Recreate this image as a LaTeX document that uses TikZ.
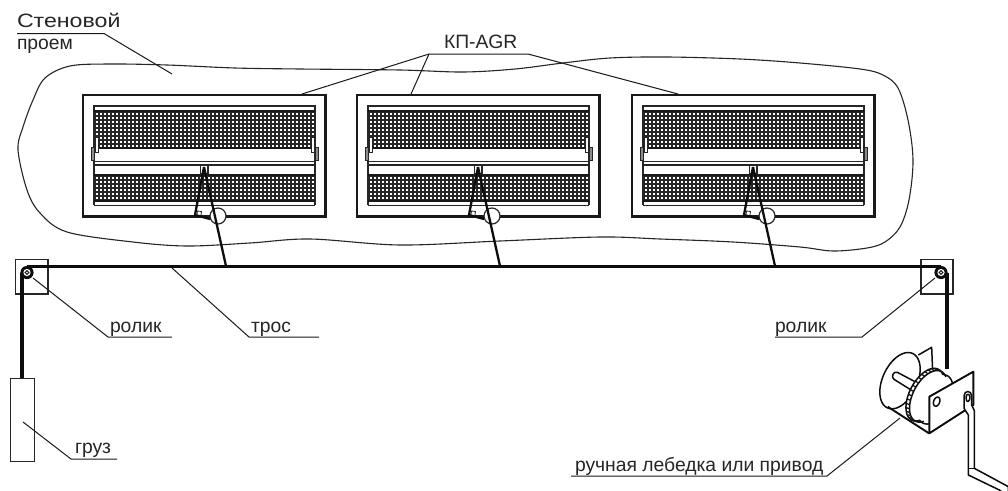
\documentclass[tikz,border=0pt]{standalone}
\usepackage{fontspec}
\setmainfont{Liberation Sans}
\newcommand{\wpath}[7]{plot[domain=#6:#7,samples=60,smooth] ({(#1)+(#3)*cos(\x)*sin(#5)+(#4)*sin(\x)*cos(#5)},{(#2)-(#3)*cos(\x)*cos(#5)+(#4)*sin(\x)*sin(#5)})}
\tikzset{
  framebox/.style={draw=black!90,line width=2.1pt},
  thinline/.style={draw=black!85,line width=1.3pt},
  leader/.style={draw=black!90,line width=1pt},
  meshline/.style={draw=black!85,line width=1.7pt},
  rope/.style={draw=black!95,line width=2.7pt},
  winchline/.style={draw=black!95,line width=1.5pt,line join=round},
  lab/.style={font=\fontsize{19.3}{22}\selectfont,text=black!85,anchor=base west,inner sep=0pt,outer sep=0pt},
}
\begin{document}
\begin{tikzpicture}[x=1pt,y=-1pt]
\useasboundingbox (0,0) rectangle (1008,490);
\fill[white] (0,0) rectangle (1008,490);
% wall opening
\draw[line width=1.1pt,draw=black!85] plot[smooth cycle,tension=0.55] coordinates {
 (33,100) (45,78) (70,66) (110,64) (167,65) (235,68) (300,69) (400,70) (463,72) (515,69) (563,63) (610,58) (667,57)
 (740,59) (800,63) (860,69) (883,75) (898,88) (908,120) (913,160) (909,200) (900,227) (885,242) (867,248) (833,251) (800,247)
 (733,242) (660,239) (600,237) (500,241) (400,245) (310,239) (250,243) (187,246) (133,242) (67,232) (40,213) (27,190) (18,150) (23,127)};
% units
\foreach \u/\dx in {1/0,2/274,3/549}{
\begin{scope}[shift={(\dx,0)}]
  \draw[framebox] (83,95) rectangle (325.5,216.5);
  \draw[thinline] (94,205) -- (94,106) -- (315,106) -- (315,205);
  \draw[line width=1.7pt,draw=black!85] (94,205.5) -- (315,205.5);
  % meshes
  \begin{scope}
  \clip (94,110) rectangle (315,148.5);
  \foreach \mx in {0,...,55} \draw[meshline] ({95+\mx*4},110) -- ++(0,39);
  \foreach \my in {0,...,9} \draw[meshline] (94,{112+\my*4}) -- ++(221,0);
  \end{scope}
  \begin{scope}
  \clip (94,174.5) rectangle (315,201.5);
  \foreach \mx in {0,...,55} \draw[meshline] ({95+\mx*4},174) -- ++(0,28);
  \foreach \my in {0,...,6} \draw[meshline] (94,{176+\my*4}) -- ++(221,0);
  \end{scope}
  \draw[line width=1.8pt,draw=black!90] (94,111) -- (315,111);
  \draw[line width=1.8pt,draw=black!90] (94,148) -- (315,148);
  \draw[line width=1.8pt,draw=black!90] (94,175) -- (315,175);
  \draw[line width=1.8pt,draw=black!90] (94,201) -- (315,201);
  \draw[thinline] (94,161.7) -- (315,161.7);
  \draw[thinline] (94,165) -- (315,165);
  % hinges
  \fill[black!45] (91.5,147) rectangle (94.5,160);
  \draw[draw=black!85,line width=1pt] (91.5,147) rectangle (94.5,160);
  \fill[black!45] (315,147) rectangle (318,160);
  \draw[draw=black!85,line width=1pt] (315,147) rectangle (318,160);
  \draw[fill=white,draw=black!85,line width=1pt] (95,137) rectangle (98,152);
  \draw[fill=white,draw=black!85,line width=1pt] (311,137) rectangle (314,152);
  % lever
  \draw[fill=white,draw=black!85,line width=1.3pt] (200.5,165) rectangle (208,174);
  \draw[fill=white,draw=black!85,line width=1.2pt] (218,216) circle (8);
  \draw[draw=black!85,line width=0.8pt] (197,214.5) -- (197.5,211) -- (201.5,211.5) -- (201,215);
  \draw[rope,line width=2.3pt,line join=round] (204,167) -- (195,215) -- (210,219);
  \coordinate (lever\u) at (204,167);
  \coordinate (hook\u) at (226,266);
  \draw[rope,line width=2.3pt] (lever\u) -- (hook\u);
\end{scope}}
% pulleys and rope
\coordinate (pl) at (27,272.5);
\coordinate (pr) at (941,272.5);
\coordinate (rl) at (27,266.5);
\coordinate (rr) at (941,266.5);
\coordinate (wl) at (22,272.5);
\coordinate (wr) at (947,272.5);
\draw[draw=black!85,line width=1.2pt] (15.5,259.5) rectangle (48,294);
\draw[draw=black!85,line width=1.2pt] (921,259.5) rectangle (953,294);
\draw[rope] (rl) -- (rr);
\coordinate (wtop) at (22,378);
\coordinate (wintop) at (947,369);
\draw[rope,line width=3.2pt] (wl) -- (wtop);
\draw[rope,line width=3.2pt] (wr) -- (wintop);
\foreach \p in {pl,pr}{
  \fill[black!95] (\p) circle (6.6);
  \fill[white] (\p) circle (3.6);
  \draw[black!85,line width=1pt] (\p) circle (1.9);
}
% weight
\node[draw=black!85,line width=1.2pt,minimum width=24pt,minimum height=83pt,inner sep=0pt,anchor=north west] (load) at (10,378) {};
% labels
\node[lab] (wall1) at (17,27) {\addfontfeature{FakeStretch=1.2}Стеновой};
\node[lab] (wall2) at (17,49.5) {проем};
\node[lab] (kp) at (444,48) {КП-AGR};
\node[lab] (r1) at (110,332) {ролик};
\node[lab] (tros) at (251,332) {трос};
\node[lab] (r2) at (775,332) {ролик};
\node[lab] (gruz) at (75,453) {груз};
\node[lab] (win) at (575,471) {ручная лебедка или привод};
% leader coordinates
\coordinate (a1) at (17,33.5); \coordinate (a2) at (104,33.5); \coordinate (a3) at (172,74);
\coordinate (k1) at (429,54); \coordinate (k2) at (528,54);
\coordinate (k3) at (302,94); \coordinate (k4) at (411,94); \coordinate (k5) at (678,94);
\coordinate (b1) at (33,278); \coordinate (b2) at (108,337); \coordinate (b3) at (172,337);
\coordinate (c1) at (172,268); \coordinate (c2) at (249,337); \coordinate (c3) at (319,337);
\coordinate (d1) at (935,278); \coordinate (d2) at (862,337); \coordinate (d3) at (775,337);
\coordinate (e1) at (23,422); \coordinate (e2) at (71,459); \coordinate (e3) at (117,459);
\coordinate (f1) at (900,418); \coordinate (f2) at (827,476); \coordinate (f3) at (571,476);
\draw[leader] (a1) -- (a2) -- (a3);
\draw[leader] (k3) -- (k1) -- (k2) -- (k5);
\draw[leader] (k1) -- (k4);
\draw[leader] (b1) -- (b2) -- (b3);
\draw[leader] (c1) -- (c2) -- (c3);
\draw[leader] (d1) -- (d2) -- (d3);
\draw[leader] (e1) -- (e2) -- (e3);
\draw[leader] (f1) -- (f2) -- (f3);
% winch (drawn in 3x units)
\begin{scope}[shift={(840,340)},x=0.3333pt,y=-0.3333pt]
  \draw[winchline] (235,45) -- (275,22) -- (278,95);
  % drum
  \filldraw[winchline,fill=white] \wpath{285}{178}{80}{45}{27}{0}{360} -- cycle;
  % left disc
  \filldraw[winchline,fill=white] \wpath{180}{122}{90}{52}{25}{0}{360} -- cycle;
  % shaft
  \draw[winchline,fill=white] (225,125) -- (172,97) .. controls (160,92) and (152,112) .. (162,118) -- (210,148);
  % gear
  \fill[white] \wpath{255}{164}{86}{46}{27.8}{0}{360} -- cycle;
  \draw[winchline] \wpath{255}{164}{86}{46}{27.8}{150}{385};
  \draw[winchline] \wpath{265}{169}{84}{46}{27.8}{150}{385};
  \foreach \t in {155,165,...,375}{
    \draw[black!90,line width=1.3pt]
      ({255+86*cos(\t)*sin(27.8)+46*sin(\t)*cos(27.8)},{164-86*cos(\t)*cos(27.8)+46*sin(\t)*sin(27.8)}) --
      ({265+84*cos(\t)*sin(27.8)+46*sin(\t)*cos(27.8)},{169-84*cos(\t)*cos(27.8)+46*sin(\t)*sin(27.8)});
  }
  \draw[winchline,line width=1.9pt] (143,200) -- (267,280);
  % front plate
  \filldraw[winchline,line width=1.9pt,fill=white] (268,170) -- (400,95) -- (400,195) -- (268,280) -- cycle;
  \draw[winchline] \wpath{290}{185}{14}{9}{20}{0}{360} -- cycle;
  % handle
  \filldraw[winchline,fill=white] (372,205) -- (372,168) .. controls (372,150) and (395,150) .. (395,168) -- (395,195) -- (403,212) -- (403,385) -- (505,440) -- (505,470) -- (478,450) -- (385,405) -- (385,225) -- cycle;
  \draw[winchline] (378,172) .. controls (378,160) and (390,160) .. (390,172) .. controls (390,182) and (380,195) .. (378,172);
  \draw[winchline] (385,385) -- (403,385);
\end{scope}
\end{tikzpicture}
\end{document}
